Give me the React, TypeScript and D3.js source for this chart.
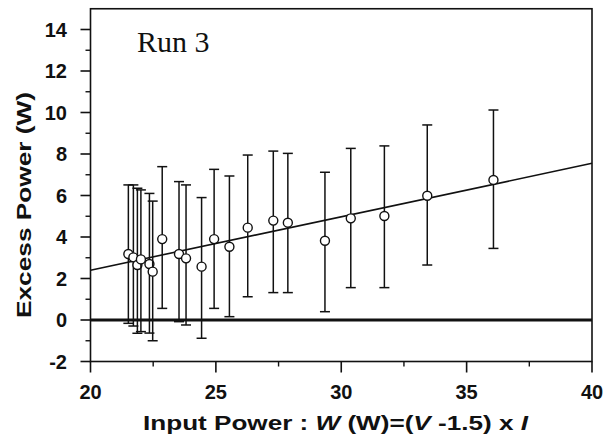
import React from 'react';
import * as d3 from 'd3';

// readings taken from the Run 3 plot
const inputPower = [21.51, 21.71, 21.87, 22.01, 22.35, 22.48, 22.86, 23.53, 23.81, 24.43, 24.93, 25.54, 26.27, 27.29, 27.87, 29.35, 30.38, 31.72, 33.43, 36.07];
const excessPower = [3.18, 3.02, 2.65, 2.92, 2.7, 2.33, 3.9, 3.18, 2.97, 2.57, 3.9, 3.53, 4.45, 4.79, 4.69, 3.82, 4.9, 5.01, 5.99, 6.75];
const errTop = [6.51, 6.51, 6.35, 6.27, 6.1, 5.73, 7.39, 6.67, 6.51, 5.9, 7.26, 6.94, 7.95, 8.14, 8.03, 7.12, 8.27, 8.39, 9.4, 10.12];
const errBottom = [-0.16, -0.29, -0.64, -0.56, -0.63, -1.0, 0.56, -0.08, -0.24, -0.88, 0.56, 0.16, 1.12, 1.32, 1.32, 0.4, 1.56, 1.56, 2.65, 3.45];
const fitLine = [
  { x: 20, y: 2.4 },
  { x: 40, y: 7.55 }
];
const xTicks = [20, 25, 30, 35, 40];
const yTicks = [-2, 0, 2, 4, 6, 8, 10, 12, 14];

const W = 612;
const H = 436;
const ink = '#111';

export default function App() {
  const x = d3.scaleLinear().domain([20, 40]).range([90.5, 592]);
  const y = d3.scaleLinear().domain([-2, 15]).range([361.5, 8.75]);

  const minorX = d3.range(22.5, 40, 5);
  const minorY = d3.range(-1, 15, 2);

  const line = d3
    .line<{ x: number; y: number }>()
    .x(d => x(d.x))
    .y(d => y(d.y));

  const [x0, x1] = x.range();
  const [yb, yt] = y.range();

  return (
    <svg
      width={W}
      height={H}
      viewBox={`0 0 ${W} ${H}`}
      style={{ position: 'absolute', left: 0, top: 0, background: '#fff' }}
    >
      {/* frame */}
      <rect x={x0} y={yt} width={x1 - x0} height={yb - yt} fill="none" stroke={ink} strokeWidth={1.6} />

      {/* zero line */}
      <line x1={x0} x2={x1} y1={y(0)} y2={y(0)} stroke={ink} strokeWidth={3} />

      {/* x ticks */}
      {xTicks.map(t => (
        <g key={'xt' + t}>
          <line x1={x(t)} x2={x(t)} y1={yb} y2={yb + 11} stroke={ink} strokeWidth={1.6} />
          <text
            x={x(t)}
            y={399}
            textAnchor="middle"
            fontFamily="Liberation Sans, Arial, sans-serif"
            fontWeight="bold"
            fontSize={20}
            fill={ink}
          >
            {t}
          </text>
        </g>
      ))}
      {minorX.map(t => (
        <line key={'xm' + t} x1={x(t)} x2={x(t)} y1={yb} y2={yb + 5} stroke={ink} strokeWidth={1.4} />
      ))}

      {/* y ticks */}
      {yTicks.map(t => (
        <g key={'yt' + t}>
          <line x1={x0 - 10} x2={x0} y1={y(t)} y2={y(t)} stroke={ink} strokeWidth={1.6} />
          <text
            x={67}
            y={y(t)}
            dy="0.36em"
            textAnchor="end"
            fontFamily="Liberation Sans, Arial, sans-serif"
            fontWeight="bold"
            fontSize={20}
            fill={ink}
          >
            {t}
          </text>
        </g>
      ))}
      {minorY.map(t => (
        <line key={'ym' + t} x1={x0 - 5} x2={x0} y1={y(t)} y2={y(t)} stroke={ink} strokeWidth={1.4} />
      ))}

      {/* fit */}
      <path d={line(fitLine) || ''} fill="none" stroke={ink} strokeWidth={1.6} />

      {/* error bars and points */}
      {inputPower.map((v, i) => {
        const cx = x(v);
        return (
          <g key={'p' + i}>
            <line x1={cx} x2={cx} y1={y(errTop[i])} y2={y(errBottom[i])} stroke={ink} strokeWidth={1.5} />
            <line x1={cx - 5} x2={cx + 5} y1={y(errTop[i])} y2={y(errTop[i])} stroke={ink} strokeWidth={1.5} />
            <line x1={cx - 5} x2={cx + 5} y1={y(errBottom[i])} y2={y(errBottom[i])} stroke={ink} strokeWidth={1.5} />
            <circle cx={cx} cy={y(excessPower[i])} r={4.5} fill="#fff" stroke={ink} strokeWidth={1.4} />
          </g>
        );
      })}

      {/* run label */}
      <text x={137} y={52} fontFamily="Liberation Serif, Times New Roman, serif" fontSize={30} fill={ink}>
        Run 3
      </text>

      {/* axis titles */}
      <text
        transform="translate(31,205) rotate(-90)"
        textAnchor="middle"
        fontFamily="Liberation Sans, Arial, sans-serif"
        fontWeight="bold"
        fontSize={21}
        textLength={226}
        lengthAdjust="spacingAndGlyphs"
        fill={ink}
      >
        Excess Power (W)
      </text>
      <text
        x={143}
        y={430}
        fontFamily="Liberation Sans, Arial, sans-serif"
        fontWeight="bold"
        fontSize={21}
        textLength={385}
        lengthAdjust="spacingAndGlyphs"
        fill={ink}
      >
        Input Power : <tspan fontStyle="italic">W</tspan> (W)=(<tspan fontStyle="italic">V</tspan> -1.5) x{' '}
        <tspan fontStyle="italic">I</tspan>
      </text>
    </svg>
  );
}
